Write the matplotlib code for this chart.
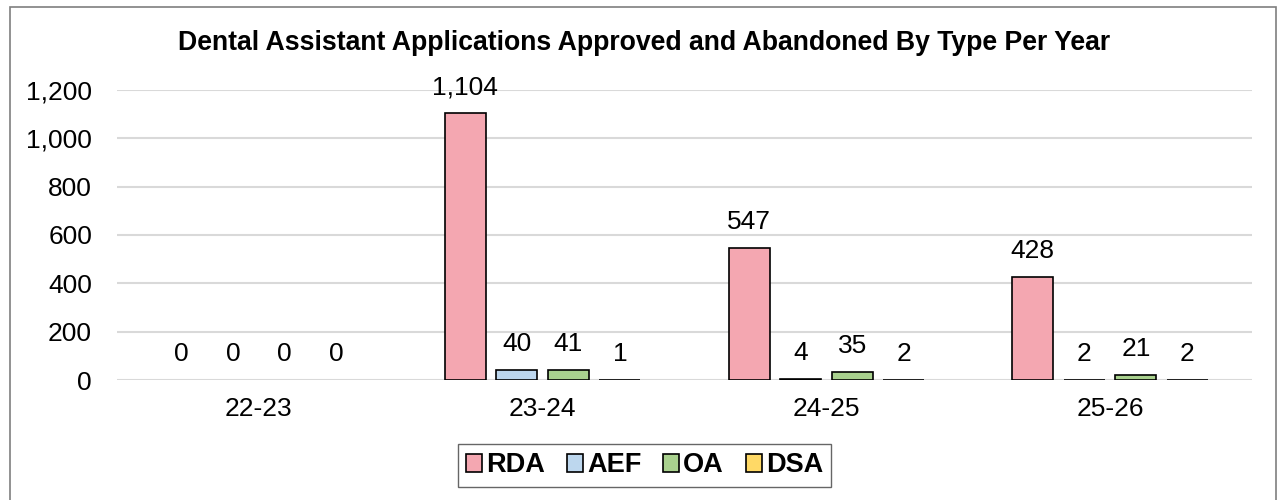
import matplotlib.pyplot as plt
import matplotlib.patches as mpatches
import numpy as np

plt.rcParams['font.family'] = ['Liberation Sans', 'DejaVu Sans']

years = ['22-23', '23-24', '24-25', '25-26']
types = ['RDA', 'AEF', 'OA', 'DSA']
rda = [0, 1104, 547, 428]
aef = [0, 40, 4, 2]
oa = [0, 41, 35, 21]
dsa = [0, 1, 2, 2]
colors = ['#F4A7B1', '#BDD7EE', '#A9D18E', '#FFD966']

fig = plt.figure(figsize=(12.81, 5), dpi=100)
ax = fig.add_axes([117 / 1281, 0.24, 1135 / 1281, 0.58])

x = np.arange(len(years))
step = 0.1815
width = 0.145
series = [rda, aef, oa, dsa]
for i, vals in enumerate(series):
    lw = [1.2 if v > 0 else 0 for v in vals]
    bars = ax.bar(x + (i - 1.5) * step, vals, width, color=colors[i],
                  edgecolor='black', linewidth=lw, label=types[i], zorder=3)
    ax.bar_label(bars, labels=[f'{v:,}' for v in vals], padding=10, fontsize=19)

ax.set_xlim(-0.5, 3.5)
ax.set_ylim(0, 1200)
ax.set_yticks(range(0, 1201, 200))
ax.set_yticklabels([f'{v:,}' for v in range(0, 1201, 200)])
ax.set_xticks(x)
ax.set_xticklabels(years)
ax.tick_params(length=0, labelsize=19)
ax.tick_params(axis='x', pad=12)
ax.tick_params(axis='y', pad=18)
ax.grid(axis='y', color='#D9D9D9', linewidth=1.5, zorder=0)
for s in ax.spines.values():
    s.set_visible(False)

fig.text(644 / 1281, 1 - 43 / 500, 'Dental Assistant Applications Approved and Abandoned By Type Per Year',
         ha='center', va='center', fontsize=19.2, fontweight='bold')

handles = [mpatches.Patch(facecolor=c, edgecolor='black', linewidth=1.2, label=t)
           for c, t in zip(colors, types)]
leg = fig.legend(handles=handles, loc='center', bbox_to_anchor=(644.5 / 1281, 1 - 465.5 / 500),
                 ncol=4, frameon=True, fancybox=False, prop={'weight': 'bold', 'size': 19.5},
                 handlelength=0.6, handleheight=0.6, handletextpad=0.15, columnspacing=0.8,
                 borderpad=0.3, borderaxespad=0)
leg.get_frame().set_edgecolor('#404040')
leg.get_frame().set_linewidth(1.0)

border = mpatches.Rectangle((10 / 1281, -0.02), 1266 / 1281, 1.02 - 7 / 500,
                            transform=fig.transFigure, fill=False, edgecolor='#7F7F7F',
                            linewidth=1.2)
fig.patches.append(border)

fig.savefig('out.png', dpi=100)
